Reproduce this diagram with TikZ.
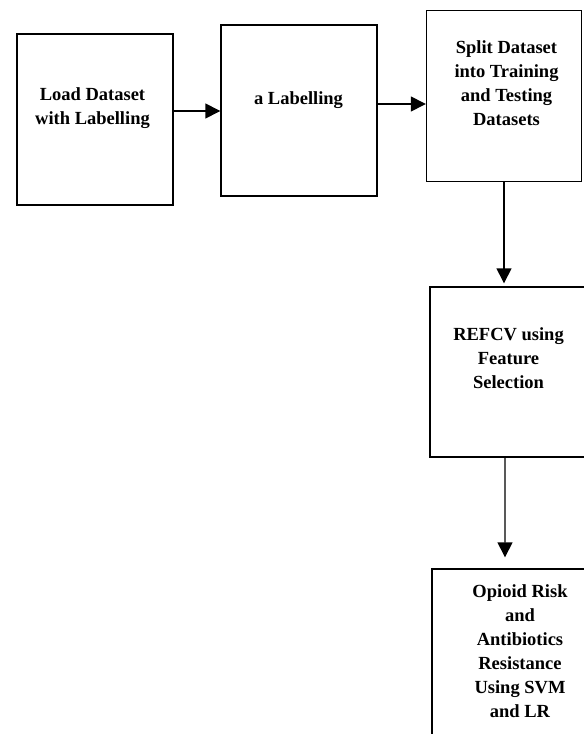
\documentclass[tikz,border=0pt]{standalone}
\usepackage{fontspec}
\setmainfont{Liberation Serif}
\usetikzlibrary{arrows.meta,calc}

\tikzset{
  stage/.style={draw, line width=1.4bp, minimum width=156bp, minimum height=171bp, inner sep=0pt},
  stagetext/.style={anchor=north, align=center, inner sep=0pt, font=\fontsize{18.5bp}{24bp}\selectfont\bfseries},
  flow/.style={line width=1.4bp, -{Triangle[length=15bp, width=15bp]}}
}

\begin{document}
\begin{tikzpicture}[x=1bp, y=-1bp]
  \useasboundingbox (0,0) rectangle (584,734);
  \clip (0,0) rectangle (584,734);

  % boxes
  \node[stage] (load) at (95, 119.5) {};
  \node[stage] (label) at (299, 110.5) {};
  \node[stage, minimum width=155bp] (split) at (504, 96) {};
  \node[stage, minimum width=157bp, minimum height=170bp] (refcv) at (508.5, 372) {};
  \node[stage, minimum width=176bp] (opioid) at (520, 654.5) {};

  % texts
  \node[stagetext] (loadtxt) at (92.5, 87.4) {Load Dataset\\with Labelling};
  \node[stagetext] (labeltxt) at (298.5, 91.4) {a Labelling};
  \node[stagetext] (splittxt) at (506.5, 40.4) {Split Dataset\\into Training\\and Testing\\Datasets};
  \node[stagetext] (refcvtxt) at (508.5, 327.4) {REFCV using\\Feature\\Selection};
  \node[stagetext] (opioidtxt) at (520, 584.4) {Opioid Risk\\and\\Antibiotics\\Resistance\\Using SVM\\and LR};

  % arrows
  \draw[flow] ([yshift=8.5bp]load.east) -- ([yshift=8.5bp]load.east -| label.west);
  \draw[flow] ([yshift=6.5bp]label.east) -- ([yshift=6.5bp]label.east -| split.west);
  \draw[flow, shorten >=3bp] (split.south) -- (split.south |- refcv.north);
  \draw[flow] ([xshift=-3.5bp]refcv.south) -- ($(refcv.south |- opioid.north)+(-3.5,-11)$);
\end{tikzpicture}
\end{document}
